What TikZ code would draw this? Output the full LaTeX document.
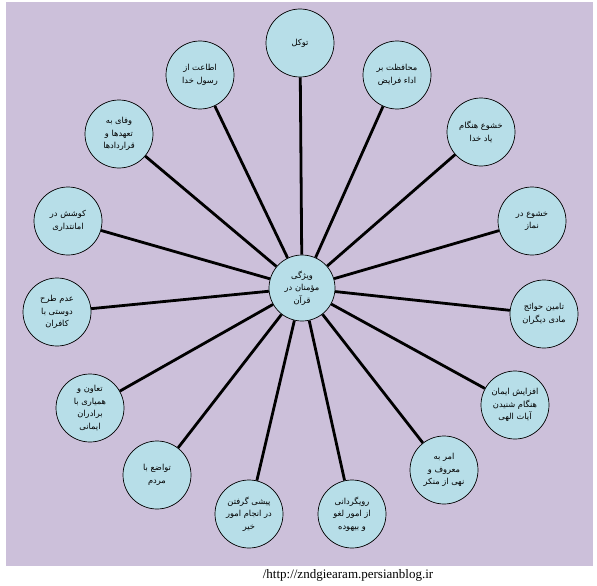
\documentclass[tikz,border=0pt]{standalone}
\usepackage{fontspec}
\setmainfont{Liberation Serif}
\newfontfamily\arabicfont[Script=Arabic]{DejaVu Sans}
\TeXXeTstate=1
\newcommand{\prs}[1]{\beginR #1\endR}

\definecolor{cback}{RGB}{204,192,218}
\definecolor{cbub}{RGB}{183,222,232}

\begin{document}
\begin{tikzpicture}[x=1pt,y=-1pt,
        bub/.style={circle,draw=black,line width=0.7pt,fill=cbub,inner sep=0pt,minimum size=68pt,
          align=center,font=\arabicfont\fontsize{8.3}{12.5}\selectfont},
        spoke/.style={line width=2.8pt,black}]
      \useasboundingbox (0,0) rectangle (597,586);
      \fill[cback] (6,2) rectangle (593,566);
      \node[bub,minimum size=66pt] (mid) at (302,288) {\prs{ویژگی}\\\prs{مؤمنان در}\\\prs{قرآن}};
      \foreach \n/\x/\y/\lab in {
          o1/300/43/{\prs{توکل}},
          o2/397/75/{\prs{محافظت بر}\\\prs{اداء فرایض}},
          o3/481/132/{\prs{خشوع هنگام}\\\prs{یاد خدا}},
          o4/532/221/{\prs{خشوع در}\\\prs{نماز}},
          o5/544/314/{\prs{تامین حوائج}\\\prs{مادی دیگران}},
          o6/515/405/{\prs{افزایش ایمان}\\\prs{هنگام شنیدن}\\\prs{آیات الهی}},
          o7/444/470/{\prs{امر به}\\\prs{معروف و}\\\prs{نهی از منکر}},
          o8/352/514/{\prs{رویگردانی}\\\prs{از امور لغو}\\\prs{و بیهوده}},
          o9/249/514/{\prs{پیشی گرفتن}\\\prs{در انجام امور}\\\prs{خیر}},
          o10/157/475/{\prs{تواضع با}\\\prs{مردم}},
          o11/90/408/{\prs{تعاون و}\\\prs{همیاری با}\\\prs{برادران}\\\prs{ایمانی}},
          o12/57/312/{\prs{عدم طرح}\\\prs{دوستی با}\\\prs{کافران}},
          o13/68/221/{\prs{کوشش در}\\\prs{امانتداری}},
          o14/119/134/{\prs{وفای به}\\\prs{تعهدها و}\\\prs{قراردادها}},
          o15/200/75/{\prs{اطاعت از}\\\prs{رسول خدا}}}
        \node[bub] (\n) at (\x,\y) {\lab};
      \foreach \i in {1,...,15}
        \draw[spoke] (mid) -- (o\i);
      \node[font=\fontsize{13}{15}\selectfont] (url) at (348,575) {/http://zndgiearam.persianblog.ir};
    \end{tikzpicture}
\end{document}
